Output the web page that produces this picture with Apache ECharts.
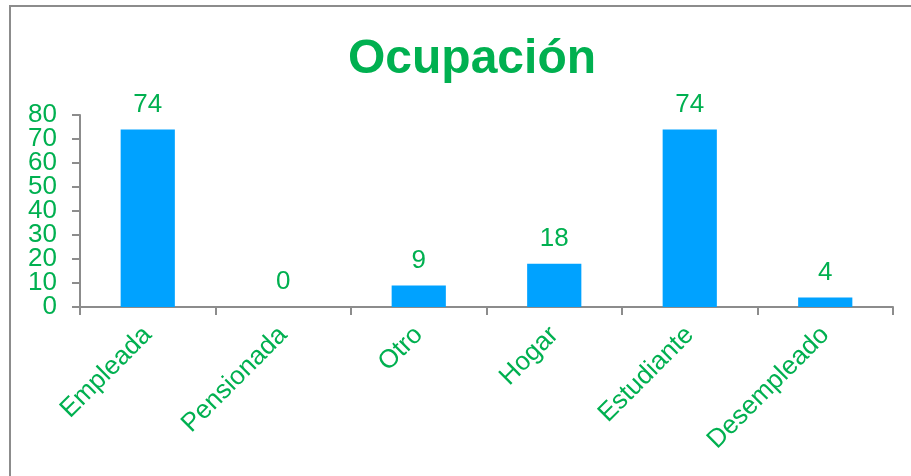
<!DOCTYPE html>
<html>
<head>
<meta charset="utf-8">
<script src="https://cdn.jsdelivr.net/npm/echarts@6/dist/echarts.min.js"></script>
<style>
  html, body { margin: 0; padding: 0; background: #fff; }
  #chart { width: 911px; height: 476px; }
</style>
</head>
<body>
<div id="chart"></div>
<script>
// categorias y valores
var categories = ['Empleada', 'Pensionada', 'Otro', 'Hogar', 'Estudiante', 'Desempleado']
var values = [74, 0, 9, 18, 74, 4]
var yTicks = [0, 10, 20, 30, 40, 50, 60, 70, 80]

var green = '#00b050'
var chart = echarts.init(document.getElementById('chart'))
chart.setOption({
  backgroundColor: '#fff',
  animation: false,
  title: {
    text: 'Ocupación',
    left: 343,
    top: 31,
    textStyle: {
      color: green,
      fontFamily: 'Liberation Sans',
      fontWeight: 'bold',
      fontSize: 48
    }
  },
  grid: {
    left: 80,
    right: 18,
    top: 115,
    bottom: 169,
    containLabel: false
  },
  xAxis: {
    type: 'category',
    data: categories,
    axisLine: { lineStyle: { color: '#8c8c8c', width: 2 } },
    axisTick: { show: true, length: 8, alignWithLabel: false, lineStyle: { color: '#8c8c8c', width: 2 } },
    axisLabel: {
      rotate: 45,
      margin: 24,
      interval: 0,
      color: green,
      fontFamily: 'Liberation Sans',
      fontSize: 26
    }
  },
  yAxis: {
    type: 'value',
    min: yTicks[0],
    max: yTicks[yTicks.length - 1],
    interval: 10,
    splitLine: { show: false },
    axisLine: { show: true, lineStyle: { color: '#8c8c8c', width: 2 } },
    axisTick: { show: true, length: 8, lineStyle: { color: '#8c8c8c', width: 2 } },
    // the axis hides labels that touch, so they are drawn below
    axisLabel: { show: false }
  },
  series: [{
    type: 'bar',
    data: values,
    barWidth: '40%',
    itemStyle: { color: '#00a2ff' },
    label: {
      show: true,
      position: 'top',
      distance: 12,
      color: green,
      fontFamily: 'Liberation Sans',
      fontSize: 26
    }
  }]
})

// marco y etiquetas del eje y, ubicadas con la escala del eje
var graphics = [{
  type: 'rect',
  shape: { x: 10, y: 6, width: 1000, height: 1000 },
  style: { fill: 'none', stroke: '#8c8c8c', lineWidth: 2 },
  silent: true
}]
yTicks.forEach(function(v) {
  var y = chart.convertToPixel({ yAxisIndex: 0 }, v)
  graphics.push({
    type: 'text',
    x: 57,
    y: y,
    silent: true,
    style: {
      text: String(v),
      fill: green,
      font: '26px "Liberation Sans"',
      align: 'right',
      verticalAlign: 'middle'
    }
  })
})
chart.setOption({ graphic: graphics })
</script>
</body>
</html>
